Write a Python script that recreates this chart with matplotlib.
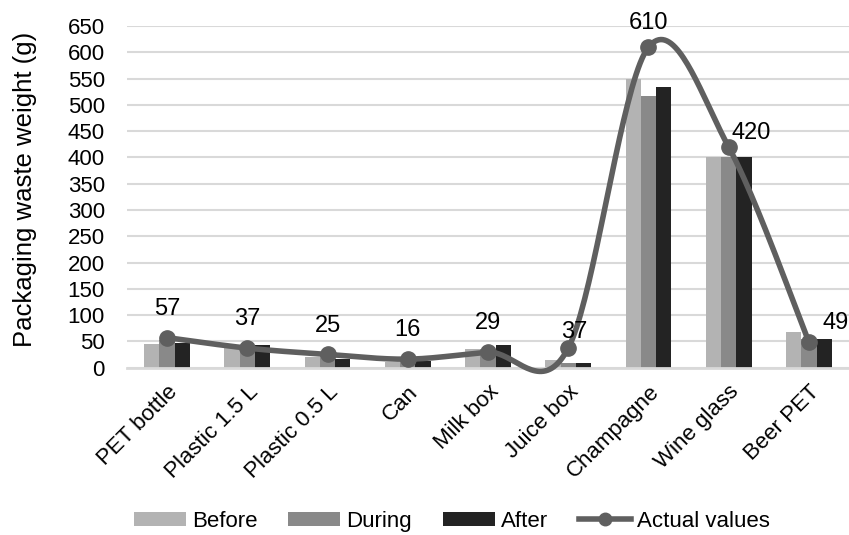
import numpy as np
from matplotlib import pyplot as plt

plt.rcParams['font.family'] = ['Liberation Sans', 'DejaVu Sans']

# data
categories = ['PET bottle', 'Plastic 1.5 L', 'Plastic 0.5 L', 'Can', 'Milk box',
              'Juice box', 'Champagne', 'Wine glass', 'Beer PET']
before = [45, 37, 20, 10, 35, 15, 549, 400, 67]
during = [52, 42, 22, 12, 36, 8, 517, 400, 54]
after = [47, 42, 17, 13, 42, 8, 535, 400, 55]
actual = [57, 37, 25, 16, 29, 37, 610, 420, 49]


def smooth(xs, ys, n=40):
    # bezier curve through the points, like a "smoothed line" in a spreadsheet
    xs = np.asarray(xs, float)
    ys = np.asarray(ys, float)
    ox, oy = [], []
    for i in range(len(xs) - 1):
        i0 = max(i - 1, 0)
        i3 = min(i + 2, len(xs) - 1)
        p0 = np.array([xs[i], ys[i]])
        p3 = np.array([xs[i + 1], ys[i + 1]])
        p1 = p0 + (p3 - np.array([xs[i0], ys[i0]])) / 6
        p2 = p3 - (np.array([xs[i3], ys[i3]]) - p0) / 6
        t = np.linspace(0, 1, n)[:, None]
        pts = (1 - t) ** 3 * p0 + 3 * (1 - t) ** 2 * t * p1 + 3 * (1 - t) * t ** 2 * p2 + t ** 3 * p3
        ox.extend(pts[:, 0])
        oy.extend(pts[:, 1])
    return ox, oy


fig = plt.figure(figsize=(8.49, 5.35), dpi=100)
ax = fig.add_axes([0.1496, 0.313, 0.8504, 0.638])

x = np.arange(len(categories))
w = 0.19
b1 = ax.bar(x - w, before, w, color='#b3b3b3', label='Before', zorder=2)
b2 = ax.bar(x, during, w, color='#898989', label='During', zorder=2)
b3 = ax.bar(x + w, after, w, color='#232323', label='After', zorder=2)

sx, sy = smooth(x, actual)
ax.plot(sx, sy, color='#5f5f5f', lw=4, zorder=3, solid_capstyle='round', clip_on=False)
ax.plot(x, actual, 'o', color='#5f5f5f', ms=11, zorder=4, clip_on=False)
ln, = ax.plot([], [], '-o', color='#5f5f5f', lw=4, ms=9, label='Actual values')

# data labels (offsets in points)
offsets = {'Champagne': (0, 13, 'center'), 'Juice box': (4, 7, 'center'),
           'Wine glass': (2, 6, 'left'), 'Beer PET': (10, 9, 'left')}
for i, v in enumerate(actual):
    dx, dy, ha = offsets.get(categories[i], (0, 16.5, 'center'))
    ax.annotate(str(v), (x[i], v), xytext=(dx, dy), textcoords='offset points',
                ha=ha, va='baseline', fontsize=17, annotation_clip=False)

ax.set_xlim(-0.5, len(categories) - 0.5)
ax.set_ylim(0, 650)
ax.set_yticks(np.arange(0, 651, 50))
ax.set_xticks(x)
ax.set_xticklabels(categories, rotation=45, ha='right', rotation_mode='anchor', fontsize=16)
ax.tick_params(axis='y', labelsize=16, length=0, pad=16)
ax.tick_params(axis='x', length=0, pad=10)
ax.grid(axis='y', color='#d9d9d9', lw=1.5, zorder=0)
ax.set_axisbelow(True)
for s in ['top', 'right', 'left']:
    ax.spines[s].set_visible(False)
ax.spines['bottom'].set_color('#d9d9d9')
ax.spines['bottom'].set_linewidth(2)
ax.set_ylabel('Packaging waste weight (g)', fontsize=18.5)
ax.yaxis.set_label_coords(-0.125, 0.522)

fig.legend(handles=[b1, b2, b3, ln], loc='center', bbox_to_anchor=(0.532, 0.026), ncol=4,
           frameon=False, fontsize=16, handlelength=2.35, handleheight=0.6,
           handletextpad=0.25, columnspacing=1.4, borderpad=0)

plt.savefig('out.png', dpi=100)
